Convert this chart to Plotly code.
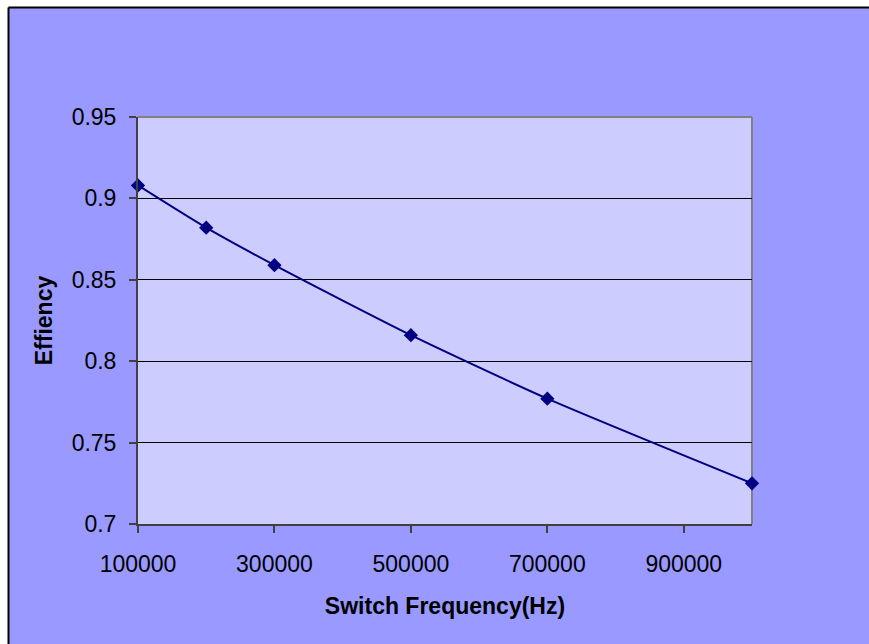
import plotly.graph_objects as go

frequency_hz = [100000, 200000, 300000, 500000, 700000, 1000000]
efficiency = [0.908, 0.882, 0.859, 0.816, 0.777, 0.725]
x_tick_vals = [100000, 300000, 500000, 700000, 900000]
y_tick_vals = [0.7, 0.75, 0.8, 0.85, 0.9, 0.95]
y_tick_text = ["0.7", "0.75", "0.8", "0.85", "0.9", "0.95"]

W, H = 869, 644
L, R, T, B = 138, W - 752, 117, H - 524
pw, ph = W - L - R, H - T - B

def px(x):
    return (x - L) / pw

def py(y):
    return (H - B - y) / ph

fig = go.Figure()
fig.add_trace(go.Scatter(
    x=frequency_hz, y=efficiency, mode="lines+markers",
    line=dict(color="#000080", width=2, shape="spline", smoothing=0.6),
    marker=dict(symbol="diamond", size=11, color="#000080"),
    cliponaxis=False, showlegend=False,
))

font = dict(family="Liberation Sans, Arial, sans-serif", size=23, color="black")

fig.update_layout(
    width=W, height=H,
    margin=dict(l=L, r=R, t=T, b=B),
    paper_bgcolor="#9999FF",
    plot_bgcolor="#CCCCFF",
    font=font,
    xaxis=dict(
        range=[100000, 1000000], tickvals=x_tick_vals,
        ticktext=[str(v) for v in x_tick_vals],
        showgrid=False, zeroline=False,
        showline=True, linecolor="#404040", linewidth=2,
        ticks="outside", ticklen=7, tickwidth=2, tickcolor="#404040",
        tickfont=font, ticklabelstandoff=11,
        title=dict(text="<b>Switch Frequency(Hz)</b>", font=font, standoff=22),
    ),
    yaxis=dict(
        range=[0.7, 0.95], tickvals=y_tick_vals, ticktext=y_tick_text,
        showgrid=True, gridcolor="black", gridwidth=1, zeroline=False,
        showline=True, linecolor="#404040", linewidth=2,
        ticks="outside", ticklen=7, tickwidth=2, tickcolor="#404040",
        tickfont=font, ticklabelstandoff=8,
        title=dict(text="<b>Effiency</b>", font=font, standoff=13),
    ),
    shapes=[
        # white strips outside the chart frame
        dict(type="rect", xref="paper", yref="paper", x0=px(-5), x1=px(W + 5), y0=py(7), y1=py(-5),
             fillcolor="white", line=dict(width=0), layer="above"),
        dict(type="rect", xref="paper", yref="paper", x0=px(-5), x1=px(8), y0=py(H + 5), y1=py(-5),
             fillcolor="white", line=dict(width=0), layer="above"),
        dict(type="line", xref="paper", yref="paper", x0=px(8.5), x1=px(W + 5), y0=py(7.5), y1=py(7.5),
             line=dict(color="black", width=2), layer="above"),
        dict(type="line", xref="paper", yref="paper", x0=px(8.5), x1=px(8.5), y0=py(7.5), y1=py(H + 5),
             line=dict(color="black", width=2), layer="above"),
        # plot area frame top and right (gray)
        dict(type="line", xref="paper", yref="paper", x0=0, x1=1, y0=1, y1=1,
             line=dict(color="#808080", width=2), layer="above"),
        dict(type="line", xref="paper", yref="paper", x0=1, x1=1, y0=0, y1=1,
             line=dict(color="#808080", width=2), layer="below"),
    ],
)

fig.write_html("out.html")
